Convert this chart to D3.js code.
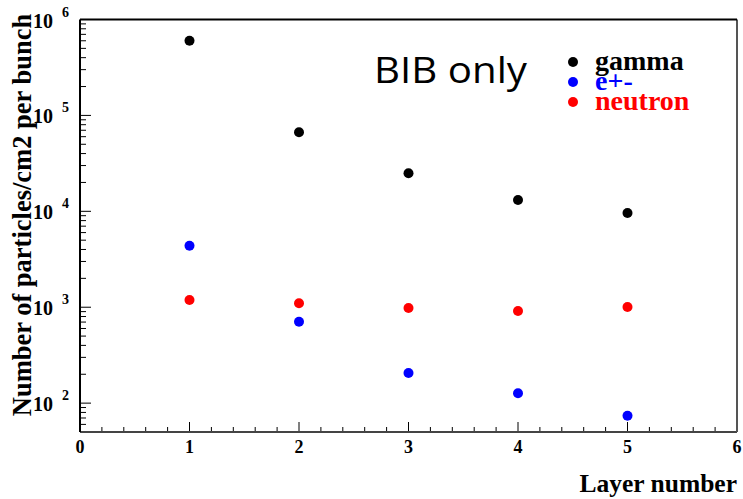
<!DOCTYPE html>
<html><head><meta charset="utf-8">
<script src="https://cdn.jsdelivr.net/npm/d3@7"></script>
<style>body{margin:0;background:#fff}svg{display:block}</style>
</head><body>
<svg id="c" width="743" height="499"></svg>
<script>
const layers = [1, 2, 3, 4, 5];
const gamma = [6.0e5, 6.67e4, 2.49e4, 1.31e4, 9.6e3];
const epm = [4.38e3, 706, 206, 127, 74];
const neutron = [1189, 1099, 982, 912, 1004];
const seriesNames = ["gamma", "e+-", "neutron"];
const seriesColors = ["#000000", "#0000ff", "#ff0000"];
const yMajor = [2, 3, 4, 5, 6];
const xTicks = [0, 1, 2, 3, 4, 5, 6];

const svg = d3.select("#c");
const L = 80, R = 737, T = 19.5, B = 432;
const x = d3.scaleLinear().domain([0, 6]).range([L, R]);
const y = d3.scaleLog().domain([50, 1e6]).range([B, T]);
const serif = "'Liberation Serif','Times New Roman',serif";

// y minor/major ticks
const yt = [];
for (let e = 1; e <= 5; e++) for (let m = 1; m <= 9; m++) {
  const v = m * Math.pow(10, e);
  if (v >= 50 && v <= 1e6) yt.push({v, major: m === 1});
}
svg.append("g").selectAll("line").data(yt).join("line")
  .attr("x1", L).attr("x2", d => L + (d.major ? 11 : 6))
  .attr("y1", d => y(d.v)).attr("y2", d => y(d.v))
  .attr("stroke", "#000").attr("stroke-width", 1);

// x ticks
const xt = d3.range(0, 30.5, 1).map(i => ({v: i / 5, major: i % 5 === 0}));
svg.append("g").selectAll("line").data(xt).join("line")
  .attr("x1", d => x(d.v)).attr("x2", d => x(d.v))
  .attr("y1", B).attr("y2", d => B - (d.major ? 10 : 5))
  .attr("stroke", "#000").attr("stroke-width", 1);

// frame
svg.append("line").attr("x1", L).attr("x2", R).attr("y1", B).attr("y2", B).attr("stroke", "#444").attr("stroke-width", 2);
svg.append("line").attr("x1", R).attr("x2", R).attr("y1", T).attr("y2", B).attr("stroke", "#555").attr("stroke-width", 2);
svg.append("line").attr("x1", L).attr("x2", R).attr("y1", T).attr("y2", T).attr("stroke", "#000").attr("stroke-width", 2);
svg.append("line").attr("x1", L).attr("x2", L).attr("y1", T).attr("y2", B).attr("stroke", "#000").attr("stroke-width", 2);

// x tick labels
svg.append("g").selectAll("text").data(xTicks).join("text")
  .attr("x", d => x(d)).attr("y", 453).attr("text-anchor", "middle")
  .attr("font-family", serif).attr("font-weight", "bold").attr("font-size", 18)
  .text(d => d);

// y tick labels
const yl = svg.append("g").selectAll("text").data(yMajor).join("text")
  .attr("x", 33).attr("y", d => y(Math.pow(10, d)) + 8)
  .attr("font-family", serif).attr("font-weight", "bold").attr("font-size", 20);
yl.append("tspan").text("10");
yl.append("tspan").attr("x", 62).attr("dy", -11).attr("font-size", 14).text(d => d);

// axis titles
svg.append("text").attr("x", 737).attr("y", 492).attr("text-anchor", "end")
  .attr("font-family", serif).attr("font-weight", "bold").attr("font-size", 25.5)
  .text("Layer number");
svg.append("text").attr("transform", "translate(31,215) rotate(-90)").attr("text-anchor", "middle")
  .attr("font-family", serif).attr("font-weight", "bold").attr("font-size", 26.5)
  .text("Number of particles/cm2 per bunch");

// data points
const all = [gamma, epm, neutron];
all.forEach((vals, si) => {
  svg.append("g").selectAll("circle").data(vals).join("circle")
    .attr("cx", (d, i) => x(layers[i])).attr("cy", d => y(d))
    .attr("r", 5).attr("fill", seriesColors[si]);
});

// BIB only
svg.append("text").attr("x", 374).attr("y", 83)
  .attr("font-family", "'Open Sans',sans-serif").attr("font-size", 37)
  .attr("textLength", 153).attr("lengthAdjust", "spacingAndGlyphs")
  .text("BIB only");

// legend
const lg = svg.append("g").selectAll("g").data(seriesNames).join("g")
  .attr("transform", (d, i) => `translate(573,${62 + i * 20})`);
lg.append("circle").attr("r", 5).attr("fill", (d, i) => seriesColors[i]);
lg.append("text").attr("x", 22).attr("y", 8)
  .attr("font-family", serif).attr("font-weight", "bold").attr("font-size", 28)
  .attr("fill", (d, i) => seriesColors[i]).text(d => d);
</script>
</body></html>
